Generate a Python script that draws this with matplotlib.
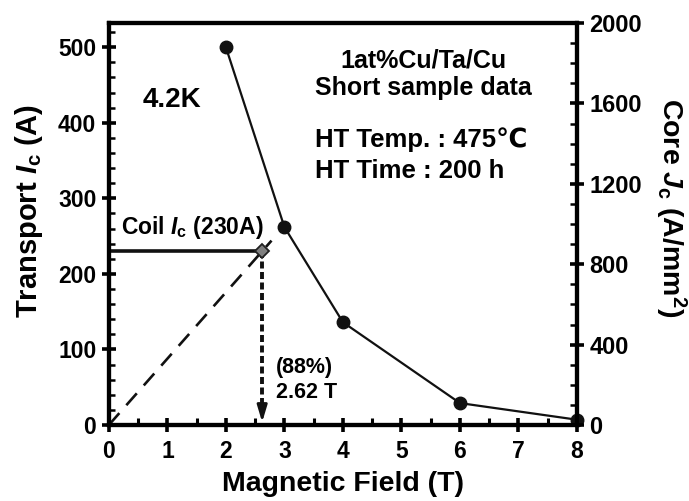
import matplotlib
matplotlib.use("Agg")
import matplotlib.pyplot as plt
from matplotlib.ticker import MultipleLocator

plt.rcParams['font.family'] = ['Liberation Sans', 'DejaVu Sans']
plt.rcParams['font.weight'] = 'bold'
plt.rcParams['mathtext.fontset'] = 'custom'
plt.rcParams['mathtext.rm'] = 'Liberation Sans:bold'
plt.rcParams['mathtext.it'] = 'Liberation Sans:italic:bold'
plt.rcParams['mathtext.bf'] = 'Liberation Sans:bold'

# Data
field = [2, 3, 4, 6, 8]
transport_ic = [500, 262, 136, 29, 7]
coil_ic = 230
coil_field = 2.62
load_line_end = 2.78
x_ticks = [0, 1, 2, 3, 4, 5, 6, 7, 8]
left_ticks = [0, 100, 200, 300, 400, 500]
right_ticks = [0, 400, 800, 1200, 1600, 2000]

fig = plt.figure(figsize=(6.89, 5.01), dpi=100)
ax = fig.add_axes([0.158, 0.1517, 0.6794, 0.8023])
ax2 = ax.twinx()

ax.set_xlim(0, 8)
ax.set_ylim(0, 532)
ax2.set_ylim(0, 2000)

# data line
ax.plot(field, transport_ic, '-o', color='#111111', lw=1.6, ms=9, zorder=5, clip_on=False)

# load line (dashed)
ax.plot([0, load_line_end], [0, coil_ic / coil_field * load_line_end], color='#111111',
        lw=1.9, dashes=(6, 4), zorder=4)
# horizontal coil Ic line
ax.plot([0, coil_field], [coil_ic, coil_ic], color='#111111', lw=2.6, zorder=4)
# vertical dotted arrow
ax.plot([coil_field, coil_field], [coil_ic, 24], color='#111111', lw=2.8,
        dashes=(1.8, 0.9), zorder=4)
ax.annotate('', xy=(coil_field, 0), xytext=(coil_field, 26),
            arrowprops=dict(arrowstyle='-|>,head_width=0.3,head_length=1.0',
                            color='#111111', lw=2.0), zorder=4)
# diamond
ax.plot([coil_field], [coil_ic], marker='D', ms=7.5, mfc='#808080', mec='#222222',
        mew=1.3, zorder=6)

# Texts
ax.text(1.08, 430, '4.2K', fontsize=20, fontweight='bold', ha='center', va='center')
ax.text(5.37, 483, '1at%Cu/Ta/Cu', fontsize=18, fontweight='bold', ha='center', va='center')
ax.text(5.37, 446, 'Short sample data', fontsize=18, fontweight='bold', ha='center', va='center')
ax.text(3.52, 368, 'HT Temp. : 475\u2103', fontsize=18.5, fontweight='bold', ha='left',
        va='baseline')
ax.text(3.52, 327, 'HT Time : 200 h', fontsize=18.5, fontweight='bold', ha='left',
        va='baseline')
ax.text(0.2, 261, r'Coil $\mathit{I}_\mathrm{c}$ (230A)', fontsize=16.5, fontweight='bold',
        ha='left', va='center')
ax.text(2.86, 76, '(88%)', fontsize=15.5, fontweight='bold', ha='left', va='center')
ax.text(2.86, 43, '2.62 T', fontsize=15.5, fontweight='bold', ha='left', va='center')

# Axes styling
ax.set_xticks(x_ticks)
ax.set_yticks(left_ticks)
ax2.set_yticks(right_ticks)
ax.xaxis.set_minor_locator(MultipleLocator(0.5))
ax.yaxis.set_minor_locator(MultipleLocator(20))
ax2.yaxis.set_minor_locator(MultipleLocator(100))

for a in (ax, ax2):
    for s in a.spines.values():
        s.set_linewidth(3.0)
ax.tick_params(axis='x', which='major', direction='inout', length=10, width=2.6,
               labelsize=16.5, pad=6)
ax.tick_params(axis='x', which='minor', direction='in', length=5, width=2.2)
ax.tick_params(axis='x', which='both', top=False)
ax.tick_params(axis='y', which='major', direction='inout', length=10, width=2.6,
               labelsize=16.5, pad=4)
ax.tick_params(axis='y', which='minor', direction='in', length=4, width=1.8)
ax2.tick_params(axis='y', which='major', direction='inout', length=10, width=2.6,
                labelsize=17, pad=4)
ax2.tick_params(axis='y', which='minor', direction='in', length=5, width=1.8)
for lab in ax.get_xticklabels() + ax.get_yticklabels() + ax2.get_yticklabels():
    lab.set_fontweight('bold')

ax.set_xlabel('Magnetic Field (T)', fontsize=20.5, fontweight='bold')
ax.set_ylabel(r'Transport $\mathit{I}_\mathrm{c}$ (A)', fontsize=21, fontweight='bold')
ax2.set_ylabel(r'Core $\mathit{J}_\mathrm{c}$ (A/mm$^\mathrm{2}$)', fontsize=20.5,
               fontweight='bold', rotation=270)
for lbl in (ax.xaxis.label, ax.yaxis.label, ax2.yaxis.label):
    lbl.set_horizontalalignment('center')
    lbl.set_verticalalignment('center')
    lbl.set_rotation_mode('anchor')
ax.xaxis.set_label_coords(0.5, -0.147)
ax.yaxis.set_label_coords(-0.171, 0.532)
ax2.yaxis.set_label_coords(1.201, 0.540)

fig.savefig('out.png', dpi=100)
